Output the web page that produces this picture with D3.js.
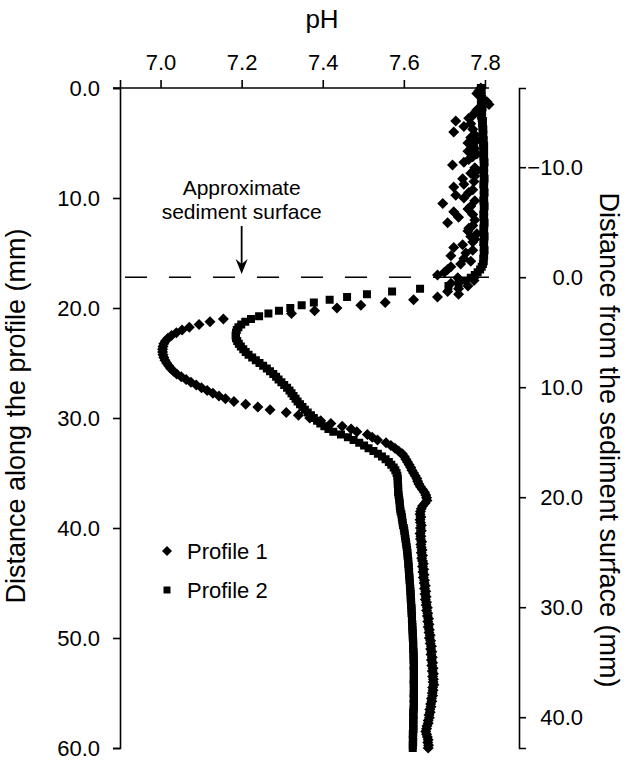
<!DOCTYPE html>
<html>
<head>
<meta charset="utf-8">
<script src="https://cdn.jsdelivr.net/npm/d3@7"></script>
<style>
  body { margin: 0; background: #fff; }
  svg text { font-family: Arial, "Liberation Sans", sans-serif; fill: #000; }
</style>
</head>
<body>
<svg id="chart" width="628" height="761"></svg>
<script>
// --- Data: pH read every 0.25 mm along the profile
const depthStep = 0.25;
const surfaceDepth = 17.2;

const profile1 = [
  7.790, 7.785, 7.780, 7.790, 7.795, 7.805, 7.810, 7.790,
  7.780, 7.775, 7.770, 7.760, 7.728, 7.765, 7.748, 7.770,
  7.723, 7.775, 7.765, 7.780, 7.758, 7.770, 7.775, 7.758,
  7.780, 7.770, 7.760, 7.748, 7.720, 7.775, 7.780, 7.765,
  7.775, 7.745, 7.773, 7.748, 7.723, 7.770, 7.760, 7.728,
  7.748, 7.775, 7.696, 7.765, 7.758, 7.723, 7.770, 7.735,
  7.775, 7.708, 7.770, 7.760, 7.758, 7.780, 7.765, 7.775,
  7.770, 7.745, 7.723, 7.770, 7.753, 7.716, 7.748, 7.765,
  7.740, 7.716, 7.708, 7.700, 7.683, 7.733, 7.773, 7.716,
  7.758, 7.735, 7.708, 7.735, 7.683, 7.624, 7.554, 7.494,
  7.435, 7.380, 7.323, null,  7.155, 7.122, 7.095, 7.071,
  7.053, 7.039, 7.027, 7.018, 7.012, 7.008, 7.006, 7.005,
  7.005, 7.006, 7.008, 7.011, 7.015, 7.020, 7.025, 7.032,
  7.040, 7.051, 7.063, 7.075, 7.088, 7.101, 7.115, 7.129,
  7.144, 7.160, 7.181, 7.210, 7.240, 7.270, 7.310, 7.340,
  7.368, 7.395, 7.420, 7.448, 7.470, 7.484, 7.510, 7.522,
  7.535, 7.556, 7.568, 7.578, 7.587, 7.596, 7.601, 7.605,
  7.609, 7.613, 7.617, 7.620, 7.624, 7.628, 7.632, 7.634,
  7.637, 7.641, 7.646, 7.651, 7.654, 7.656, 7.657, 7.652,
  7.646, 7.643, 7.641, 7.640, 7.642, 7.640, 7.641, 7.643,
  7.641, 7.643, 7.640, 7.642, 7.641, 7.644, 7.642, 7.643,
  7.645, 7.643, 7.646, 7.644, 7.646, 7.648, 7.646, 7.649,
  7.647, 7.650, 7.648, 7.651, 7.650, 7.653, 7.651, 7.654,
  7.652, 7.655, 7.653, 7.656, 7.655, 7.658, 7.656, 7.659,
  7.658, 7.661, 7.659, 7.662, 7.660, 7.663, 7.662, 7.665,
  7.663, 7.666, 7.665, 7.668, 7.666, 7.669, 7.667, 7.670,
  7.668, 7.671, 7.669, 7.672, 7.670, 7.673, 7.671, 7.673,
  7.672, 7.674, 7.671, 7.672, 7.670, 7.671, 7.668, 7.669,
  7.666, 7.667, 7.664, 7.665, 7.662, 7.663, 7.660, 7.660,
  7.657, 7.656, 7.654, 7.656, 7.658, 7.660, 7.659, 7.661,
  7.660
];

const profile2 = [
  7.790, 7.792, 7.789, 7.791, 7.793, 7.790, 7.792, 7.794,
  7.791, 7.793, 7.790, 7.792, 7.795, 7.793, 7.794, 7.796,
  7.794, 7.796, 7.795, 7.797, 7.795, 7.798, 7.796, 7.797,
  7.798, 7.796, 7.797, 7.799, 7.797, 7.798, 7.796, 7.798,
  7.797, 7.799, 7.798, 7.796, 7.798, 7.797, 7.799, 7.797,
  7.798, 7.796, 7.798, 7.799, 7.797, 7.798, 7.796, 7.798,
  7.797, 7.799, 7.798, 7.796, 7.798, 7.797, 7.799, 7.798,
  7.796, 7.798, 7.797, 7.799, 7.797, 7.798, 7.796, 7.797,
  7.795, 7.792, 7.788, 7.782, 7.775, 7.765, 7.752, 7.735,
  7.710, 7.640, 7.571, 7.509, 7.460, 7.417, 7.378, 7.348,
  7.320, 7.292, 7.266, 7.243, 7.223, 7.209, 7.199, 7.192,
  7.188, 7.186, 7.185, 7.186, 7.189, 7.193, 7.198, 7.204,
  7.210, 7.217, 7.226, 7.235, 7.244, 7.253, 7.262, 7.270,
  7.278, 7.285, 7.291, 7.298, 7.305, 7.312, 7.318, 7.323,
  7.328, 7.333, 7.338, 7.344, 7.350, 7.356, 7.363, 7.371,
  7.378, 7.386, 7.394, 7.404, 7.414, 7.426, 7.445, 7.462,
  7.476, 7.490, 7.502, 7.513, 7.525, 7.536, 7.546, 7.555,
  7.563, 7.569, 7.575, 7.579, 7.582, 7.584, 7.585, 7.585,
  7.585, 7.586, 7.586, 7.586, 7.587, 7.588, 7.589, 7.590,
  7.590, 7.591, 7.592, 7.594, 7.595, 7.596, 7.597, 7.598,
  7.600, 7.601, 7.602, 7.603, 7.604, 7.605, 7.606, 7.607,
  7.608, 7.609, 7.609, 7.610, 7.611, 7.611, 7.612, 7.612,
  7.613, 7.613, 7.614, 7.614, 7.615, 7.615, 7.616, 7.616,
  7.617, 7.617, 7.617, 7.618, 7.618, 7.619, 7.619, 7.619,
  7.620, 7.620, 7.620, 7.621, 7.621, 7.621, 7.622, 7.622,
  7.622, 7.623, 7.623, 7.623, 7.623, 7.624, 7.624, 7.624,
  7.624, 7.625, 7.624, 7.625, 7.624, 7.625, 7.625, 7.624,
  7.625, 7.624, 7.625, 7.625, 7.624, 7.625, 7.624, 7.625,
  7.624, 7.625, 7.624, 7.623, 7.624, 7.623, 7.624, 7.623,
  7.623, 7.624, 7.623, 7.622, 7.623, 7.622, 7.623, 7.622,
  7.622
];

const phTicks = [7.0, 7.2, 7.4, 7.6, 7.8];
const depthTicks = [0, 10, 20, 30, 40, 50, 60];
const surfaceTicks = [-10, 0, 10, 20, 30, 40];
const seriesNames = ["Profile 1", "Profile 2"];

const svg = d3.select("#chart");
const plotLeft = 120, plotRight = 489, plotTop = 88, plotBottom = 748;
const axisX = 519;

// --- Scales
const x = d3.scaleLinear().domain([6.9, 7.81]).range([plotLeft, plotRight]);
const y = d3.scaleLinear().domain([0, 60]).range([plotTop, plotBottom]);
const y2 = d3.scaleLinear()
  .domain([0 - surfaceDepth, 60 - surfaceDepth])
  .range([plotTop, plotBottom]);

const toPoints = arr => arr
  .map((v, i) => ({ depth: i * depthStep, ph: v }))
  .filter(d => d.ph !== null);

const diamond = "M0,-5.5L5.5,0L0,5.5L-5.5,0Z";
const square = d3.symbol(d3.symbolSquare, 64)();

// --- Axes
function styleAxis(g) {
  g.select(".domain").attr("stroke", "#000").attr("stroke-width", 1.6);
  g.selectAll(".tick line").attr("stroke", "#000").attr("stroke-width", 1.6);
  g.selectAll("text").attr("font-size", 22).attr("fill", "#000");
}

svg.append("g")
  .attr("transform", `translate(0,${plotTop})`)
  .call(d3.axisTop(x).tickValues([6.9].concat(phTicks)).tickSizeOuter(0)
    .tickSize(8).tickPadding(10).tickFormat(d => d === 6.9 ? "" : d3.format(".1f")(d)))
  .call(styleAxis)
  .call(g => g.select(".domain").attr("d", `M${plotLeft - 7},0H${plotRight}`));

svg.append("g")
  .attr("transform", `translate(${plotLeft},0)`)
  .call(d3.axisLeft(y).tickValues(depthTicks).tickSizeOuter(0)
    .tickSize(7).tickPadding(13).tickFormat(d3.format(".1f")))
  .call(styleAxis);

svg.append("g")
  .attr("transform", `translate(${axisX},0)`)
  .call(d3.axisRight(y2).tickValues(surfaceTicks).tickSizeOuter(0)
    .tickSize(7).tickPadding(57).tickFormat(d3.format(".1f")))
  .call(styleAxis)
  .call(g => g.selectAll("text").attr("text-anchor", "end"))
  .call(g => g.selectAll(".tick text").text(d => d === -10 ? "\u221210.0" : d3.format(".1f")(d)));

// --- Axis titles
svg.append("text")
  .attr("x", 322).attr("y", 28)
  .attr("text-anchor", "middle")
  .attr("font-size", 26)
  .text("pH");

svg.append("text")
  .attr("transform", "translate(25,416) rotate(-90)")
  .attr("text-anchor", "middle")
  .attr("font-size", 27)
  .text("Distance along the profile (mm)");

svg.append("text")
  .attr("transform", "translate(600,440) rotate(90)")
  .attr("text-anchor", "middle")
  .attr("font-size", 27)
  .text("Distance from the sediment surface (mm)");

// --- Sediment surface line and note
svg.append("line")
  .attr("x1", plotLeft).attr("x2", plotRight)
  .attr("y1", y(surfaceDepth)).attr("y2", y(surfaceDepth))
  .attr("stroke", "#000")
  .attr("stroke-width", 1.6)
  .attr("stroke-dasharray", "22,22")
  .attr("stroke-dashoffset", -5);

const noteX = x(7.2);
svg.append("text")
  .attr("x", noteX).attr("y", 195)
  .attr("text-anchor", "middle")
  .attr("font-size", 21)
  .text("Approximate");
svg.append("text")
  .attr("x", noteX).attr("y", 219)
  .attr("text-anchor", "middle")
  .attr("font-size", 21)
  .text("sediment surface");

svg.append("line")
  .attr("x1", noteX).attr("x2", noteX)
  .attr("y1", 226).attr("y2", 268)
  .attr("stroke", "#000").attr("stroke-width", 1.8);
svg.append("path")
  .attr("d", `M${noteX - 6},${259}L${noteX},${274}L${noteX + 6},${259}L${noteX},${264}Z`)
  .attr("fill", "#000");

// --- Points
svg.append("g").selectAll("path")
  .data(toPoints(profile1))
  .join("path")
  .attr("d", diamond)
  .attr("transform", d => `translate(${x(d.ph)},${y(d.depth)})`)
  .attr("fill", "#000");

svg.append("g").selectAll("path")
  .data(toPoints(profile2))
  .join("path")
  .attr("d", square)
  .attr("transform", d => `translate(${x(d.ph)},${y(d.depth)})`)
  .attr("fill", "#000");

// --- Legend
const legend = svg.append("g").attr("transform", "translate(167,551)");
legend.append("path").attr("d", "M0,-5L5,0L0,5L-5,0Z").attr("fill", "#000");
legend.append("path").attr("d", d3.symbol(d3.symbolSquare, 49)()).attr("transform", "translate(0,39)").attr("fill", "#000");
legend.selectAll("text")
  .data(seriesNames)
  .join("text")
  .attr("x", 20)
  .attr("y", (d, i) => i * 39 + 8)
  .attr("font-size", 22)
  .text(d => d);
</script>
</body>
</html>
